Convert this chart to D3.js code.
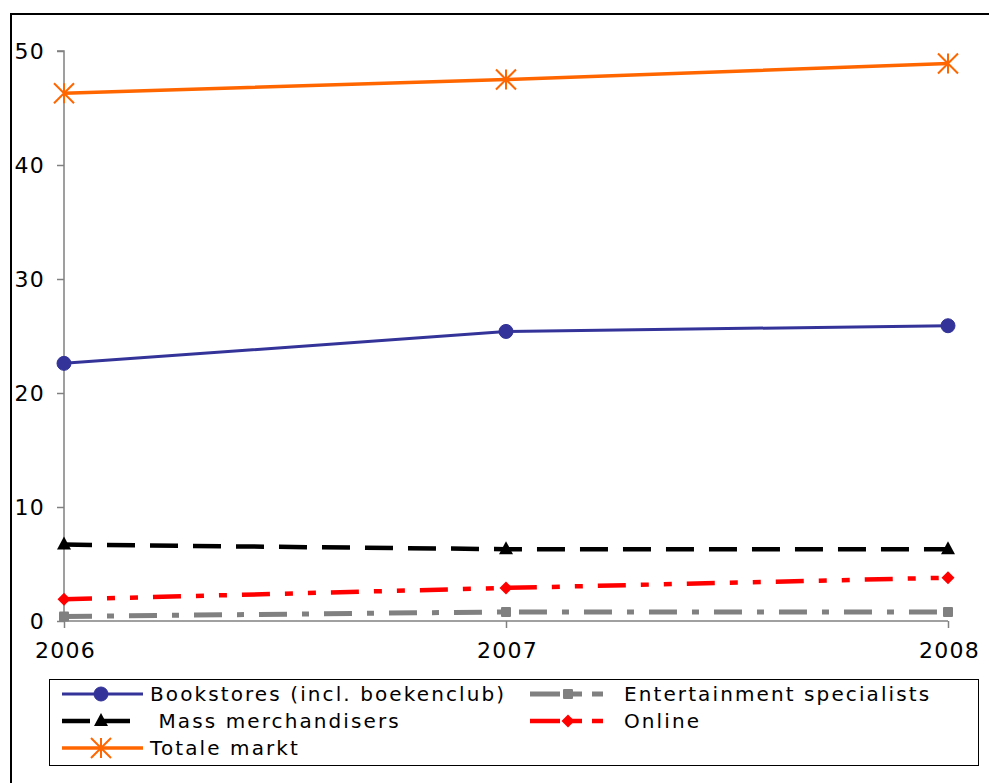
<!DOCTYPE html>
<html><head><meta charset="utf-8">
<script src="https://cdn.jsdelivr.net/npm/d3@7"></script>
<style>body{margin:0;background:#fff}svg{display:block}text{font-family:"DejaVu Sans",Verdana,sans-serif;white-space:pre}</style>
</head><body>
<svg id="c" width="989" height="783"></svg>
<script>
const years = ["2006","2007","2008"];
const yTicks = [0,10,20,30,40,50];
const bookstores = [22.6, 25.4, 25.9];
const entertainment = [0.4, 0.8, 0.8];
const mass = [6.7, 6.3, 6.3];
const online = [1.9, 2.9, 3.8];
const totale = [46.3, 47.5, 48.9];
const seriesNames = ["Bookstores (incl. boekenclub)","Entertainment specialists"," Mass merchandisers","Online","Totale markt"];

const series = [
  {name: seriesNames[0], values: bookstores, color:"#333399", width:3, dash:null, marker:"circle"},
  {name: seriesNames[1], values: entertainment, color:"#808080", width:5, dash:"28,15,7,15", marker:"square"},
  {name: seriesNames[2], values: mass, color:"#000000", width:4.5, dash:"28,15", marker:"triangle"},
  {name: seriesNames[3], values: online, color:"#FF0000", width:4.5, dash:"28,15,8,15,8,15", marker:"diamond"},
  {name: seriesNames[4], values: totale, color:"#FF6600", width:3.5, dash:null, marker:"star"}
];

const svg = d3.select("#c");
svg.append("rect").attr("x",11).attr("y",14).attr("width",1000).attr("height",800)
  .attr("fill","none").attr("stroke","#000").attr("stroke-width",2);

const x = d3.scalePoint().domain(years).range([64,948]);
const y = d3.scaleLinear().domain([0,50]).range([621,51]);

const yAxis = svg.append("g").attr("transform","translate(64,0)")
  .call(d3.axisLeft(y).tickValues(yTicks).tickSize(7).tickPadding(12));
const xAxis = svg.append("g").attr("transform","translate(0,621)")
  .call(d3.axisBottom(x).tickSize(7).tickPadding(14));
[yAxis,xAxis].forEach(g=>{
  g.select(".domain").attr("stroke","#808080").attr("stroke-width",1.5);
  g.selectAll(".tick line").attr("stroke","#808080").attr("stroke-width",1.5);
  g.selectAll("text").attr("font-size",22).attr("fill","#000").attr("font-family","DejaVu Sans")
    .attr("letter-spacing",1.2);
});
xAxis.selectAll("text").attr("dx",1);
xAxis.select(".domain").attr("d","M64,0H948");
yAxis.select(".domain").attr("d","M-7,"+y(50)+"H0V"+y(0));

function drawMarker(g, type, cx, cy, color){
  if(type==="circle") g.append("circle").attr("cx",cx).attr("cy",cy).attr("r",7).attr("fill",color).attr("stroke",color);
  else if(type==="square") g.append("rect").attr("x",cx-5).attr("y",cy-5).attr("width",10).attr("height",10).attr("rx",1).attr("fill",color);
  else if(type==="triangle") g.append("path").attr("d",`M${cx},${cy-8}L${cx+7},${cy+5}L${cx-7},${cy+5}Z`).attr("fill",color);
  else if(type==="diamond") g.append("path").attr("d",`M${cx},${cy-6.5}L${cx+6.5},${cy}L${cx},${cy+6.5}L${cx-6.5},${cy}Z`).attr("fill",color);
  else if(type==="star"){
    const r=10;
    g.append("path").attr("d",`M${cx},${cy-r}V${cy+r}M${cx-r},${cy-r}L${cx+r},${cy+r}M${cx+r},${cy-r}L${cx-r},${cy+r}`)
      .attr("stroke",color).attr("stroke-width",2).attr("fill","none");
  }
}

const line = d3.line().x((d,i)=>x(years[i])).y(d=>y(d));
const order = [1,3,2,0,4];
order.forEach(k=>{
  const s = series[k];
  const g = svg.append("g");
  g.append("path").attr("d",line(s.values)).attr("fill","none").attr("stroke",s.color)
    .attr("stroke-width",s.width).attr("stroke-dasharray",s.dash);
  s.values.forEach((v,i)=>drawMarker(g,s.marker,x(years[i]),y(v),s.color));
});

// legend
const lg = svg.append("g");
lg.append("rect").attr("x",49.5).attr("y",679.5).attr("width",929).attr("height",86)
  .attr("fill","#fff").attr("stroke","#000").attr("stroke-width",1);
const pos = [[62,694],[530,694],[62,721],[530,721],[62,748]];
series.forEach((s,i)=>{
  const [lx,ly]=pos[i];
  const g = lg.append("g");
  const left = i%2===0;
  const w = left ? (s.dash ? 71 : 81) : 73;
  g.append("path").attr("d",`M${lx},${ly}H${lx+w}`).attr("stroke",s.color).attr("stroke-width",s.width)
    .attr("stroke-dasharray", s.dash ? (left ? "28,12" : "30,10,12,10") : null);
  drawMarker(g,s.marker, left ? 101 : 568, ly, s.color);
  g.append("text").attr("x", left ? 150 : 624).attr("y",ly).attr("dy","0.36em")
    .attr("font-size",20).attr("letter-spacing",2.1).text(s.name);
});
</script>
</body></html>
